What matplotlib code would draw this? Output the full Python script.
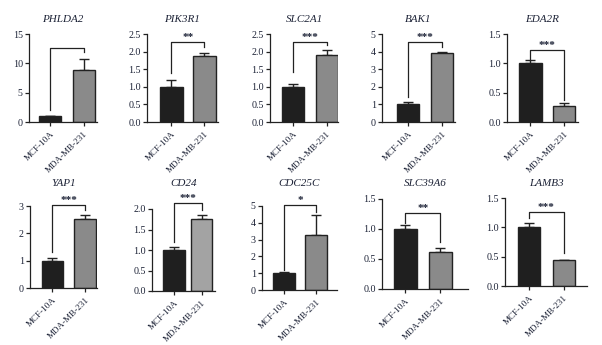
import matplotlib
matplotlib.use("Agg")
import matplotlib.pyplot as plt

plt.rcParams['font.family'] = ['Liberation Serif', 'DejaVu Serif']

groups = ['MCF-10A', 'MDA-MB-231']
genes = ['PHLDA2', 'PIK3R1', 'SLC2A1', 'BAK1', 'EDA2R',
         'YAP1', 'CD24', 'CDC25C', 'SLC39A6', 'LAMB3']
mcf = [1.0, 1.0, 1.0, 1.0, 1.0, 1.0, 1.0, 1.0, 1.0, 1.0]
mda = [8.8, 1.87, 1.9, 3.9, 0.27, 2.53, 1.75, 3.3, 0.62, 0.44]
mcf_err = [0.05, 0.18, 0.08, 0.12, 0.05, 0.1, 0.08, 0.1, 0.06, 0.07]
mda_err = [2.0, 0.1, 0.15, 0.06, 0.05, 0.13, 0.1, 1.15, 0.06, 0.01]
ymax = [15, 2.5, 2.5, 5, 1.5, 3, 2.0, 5, 1.5, 1.5]
ystep = [5, 0.5, 0.5, 1, 0.5, 1, 0.5, 1, 0.5, 0.5]
stars = ['', '**', '***', '***', '***', '***', '***', '*', '**', '***']
# bracket: height, left leg end, right leg end
bracket_y = [12.6, 2.27, 2.27, 4.55, 1.23, 3.03, 2.14, 5.06, 1.27, 1.26]
bracket_l = [2.0, 1.39, 1.42, 1.42, 1.06, 1.32, 1.2, 1.2, 1.1, 1.16]
bracket_r = [11.9, 2.13, 2.19, 4.27, 0.37, 2.86, 1.97, 4.65, 0.78, 0.56]

W, H = 602, 345
# axes box in pixels: x0, x1, ytop, ybottom
boxes = [(29, 97, 34, 122), (147, 218, 34, 122), (270, 338, 34, 122),
         (382, 455, 34, 122), (507, 578, 34, 122),
         (30, 97, 206, 288), (152, 215, 209, 291), (262, 337, 206, 290),
         (382, 468, 199, 289), (505, 587, 198, 286)]
title_y = [19, 19, 19, 19, 19, 183, 183, 183, 183, 183]
xlims = [(-0.63, 1.40), (-0.74, 1.41), (-0.69, 1.34), (-0.76, 1.38), (-0.70, 1.42),
         (-0.69, 1.37), (-0.80, 1.49), (-0.69, 1.66), (-0.67, 1.80), (-0.70, 1.68)]
bar_w = [0.66, 0.68, 0.66, 0.66, 0.68, 0.66, 0.78, 0.68, 0.66, 0.64]
grey = ['#8a8a8a'] * 10
grey[6] = '#a3a3a3'
ink = '#1c2236'

fig = plt.figure(figsize=(W / 100, H / 100), dpi=100)

for i, g in enumerate(genes):
    x0, x1, yt, yb = boxes[i]
    ax = fig.add_axes([x0 / W, 1 - yb / H, (x1 - x0) / W, (yb - yt) / H])
    vals = [mcf[i], mda[i]]
    errs = [[0, 0], [mcf_err[i], mda_err[i]]]
    ax.bar([0, 1], vals, width=bar_w[i], color=['#1f1f1f', grey[i]],
           edgecolor='#222222', linewidth=1.0, zorder=2)
    ax.errorbar([0, 1], vals, yerr=errs, fmt='none', ecolor='#222222',
                elinewidth=1.0, capsize=3.5, capthick=1.0, zorder=1)
    ax.plot([0, 0, 1, 1], [bracket_l[i], bracket_y[i], bracket_y[i], bracket_r[i]],
            color='#222222', lw=0.9, clip_on=False)
    if stars[i]:
        ax.text(0.5, bracket_y[i], stars[i], ha='center', va='bottom',
                fontsize=8, fontweight='bold', color=ink, clip_on=False)
    ax.set_xlim(*xlims[i])
    ax.set_ylim(0, ymax[i])
    n = int(round(ymax[i] / ystep[i]))
    ticks = [k * ystep[i] for k in range(n + 1)]
    ax.set_yticks(ticks)
    if ystep[i] < 1:
        ax.set_yticklabels(['%.1f' % t for t in ticks])
    else:
        ax.set_yticklabels(['%d' % t for t in ticks])
    ax.set_xticks([0, 1])
    ax.set_xticklabels(groups, rotation=45, ha='right', rotation_mode='anchor')
    ax.tick_params(labelsize=7.2, length=3, width=0.9, colors='#222222',
                   labelcolor=ink)
    ax.tick_params(axis='x', pad=3, labelsize=6.6)
    ax.tick_params(axis='y', pad=1.5)
    for s in ['top', 'right']:
        ax.spines[s].set_visible(False)
    for s in ['left', 'bottom']:
        ax.spines[s].set_linewidth(0.9)
        ax.spines[s].set_color('#222222')
    fig.text((x0 + x1) / 2 / W, 1 - title_y[i] / H, g, fontsize=8,
             style='italic', color=ink, ha='center', va='center')

fig.savefig('out.png', dpi=100)
